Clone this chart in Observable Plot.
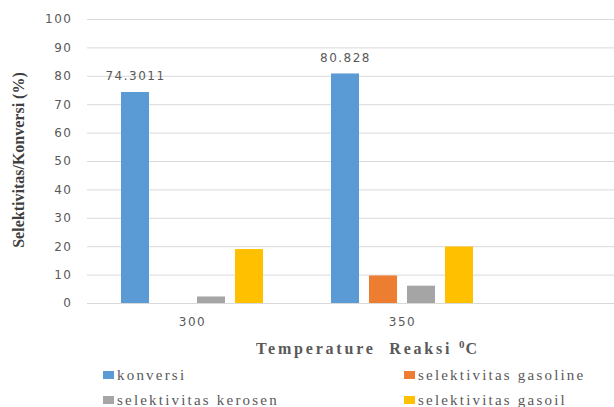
<!DOCTYPE html>
<html>
<head>
<meta charset="utf-8">
<script src="https://cdn.jsdelivr.net/npm/d3@7"></script>
<script src="https://cdn.jsdelivr.net/npm/@observablehq/plot@0.6"></script>
<style>
  body { margin: 0; background: #fff; }
  #chart { position: relative; width: 614px; height: 407px; overflow: hidden; }
  #chart svg { position: absolute; left: 0; top: 0; }
  .ylabel {
    position: absolute; left: 19px; top: 160px;
    transform: translate(-50%, -50%) rotate(-90deg);
    white-space: nowrap;
    font: bold 16px "Liberation Serif", serif; color: #404040;
  }
  .xlabel {
    position: absolute; left: 256px; top: 340px;
    white-space: nowrap;
    font: bold 16px "Liberation Serif", serif; color: #595959; letter-spacing: 2.8px;
  }
  .xlabel sup { font-size: 11px; vertical-align: 6px; line-height: 0; letter-spacing: 1px; }
  .legend-item {
    position: absolute; white-space: nowrap;
    font: 15px "Liberation Serif", serif; color: #595959; letter-spacing: 2.2px;
    display: flex; align-items: center; height: 18px;
  }
  .legend-item i { display: inline-block; width: 11px; height: 8px; margin-right: 3px; }
</style>
</head>
<body>
<div id="chart"></div>
<script>
// Reaction temperatures (°C)
const temperatures = ["300", "350"];
// Series shown at each temperature
const seriesNames = ["konversi", "selektivitas gasoline", "selektivitas kerosen", "selektivitas gasoil"];
const seriesColors = ["#5B9BD5", "#ED7D31", "#A5A5A5", "#FFC000"];
// Values (%) per temperature
const konversi = [74.3011, 80.828];
const gasoline = [0, 9.7];
const kerosen = [2.3, 6.1];
const gasoil = [19.0, 19.9];
// Y axis ticks
const yTicks = [0, 10, 20, 30, 40, 50, 60, 70, 80, 90, 100];

const valuesBySeries = [konversi, gasoline, kerosen, gasoil];
const rows = [];
temperatures.forEach((t, i) => {
  seriesNames.forEach((s, j) => rows.push({temp: t, series: s, value: valuesBySeries[j][i]}));
});

// Shared frame geometry for the two layers
const frame = {width: 614, height: 336, marginLeft: 87, marginRight: 0, marginTop: 19, marginBottom: 33};
const textStyle = {fontFamily: "DejaVu Sans, sans-serif", fontSize: "12px", color: "#595959", background: "transparent", letterSpacing: "1.5px"};

// Back layer: gridlines across the full width and the value axis
const grid = Plot.plot({
  ...frame,
  style: textStyle,
  y: {domain: [0, 100], axis: null},
  marks: [
    Plot.ruleY(yTicks, {stroke: "#D9D9D9", strokeWidth: 1}),
    Plot.axisY({ticks: yTicks, tickSize: 0, tickPadding: 15, label: null, fill: "#595959"})
  ]
});

// Front layer: grouped bars by temperature
const bars = Plot.plot({
  ...frame,
  style: textStyle,
  fx: {domain: temperatures, range: [87, 507], padding: 0, label: null, axis: null},
  x: {domain: seriesNames, axis: null, paddingInner: 0.26, paddingOuter: 0.89},
  y: {domain: [0, 100], axis: null},
  color: {domain: seriesNames, range: seriesColors},
  marks: [
    Plot.axisFx({anchor: "bottom", tickSize: 0, tickPadding: 14, label: null, fill: "#595959"}),
    Plot.barY(rows, {fx: "temp", x: "series", y: "value", fill: "series"}),
    Plot.text(rows.filter(d => d.series === "konversi"), {
      fx: "temp", x: "series", y: "value", text: d => String(d.value),
      dy: -16, fill: "#595959", fontSize: 12
    })
  ]
});

const chart = document.getElementById("chart");
chart.appendChild(grid);
chart.appendChild(bars);

const yl = document.createElement("div");
yl.className = "ylabel";
yl.textContent = "Selektivitas/Konversi (%)";
chart.appendChild(yl);

const xl = document.createElement("div");
xl.className = "xlabel";
xl.innerHTML = "Temperature&nbsp;&nbsp;Reaksi <sup>0</sup>C";
chart.appendChild(xl);

// Legend: two columns, two rows
const legendPos = [[103, 366], [404, 366], [103, 391], [404, 391]];
seriesNames.forEach((name, j) => {
  const item = document.createElement("div");
  item.className = "legend-item";
  item.style.left = legendPos[j][0] + "px";
  item.style.top = legendPos[j][1] + "px";
  const sw = document.createElement("i");
  sw.style.background = seriesColors[j];
  item.appendChild(sw);
  item.appendChild(document.createTextNode(name));
  chart.appendChild(item);
});
</script>
</body>
</html>
